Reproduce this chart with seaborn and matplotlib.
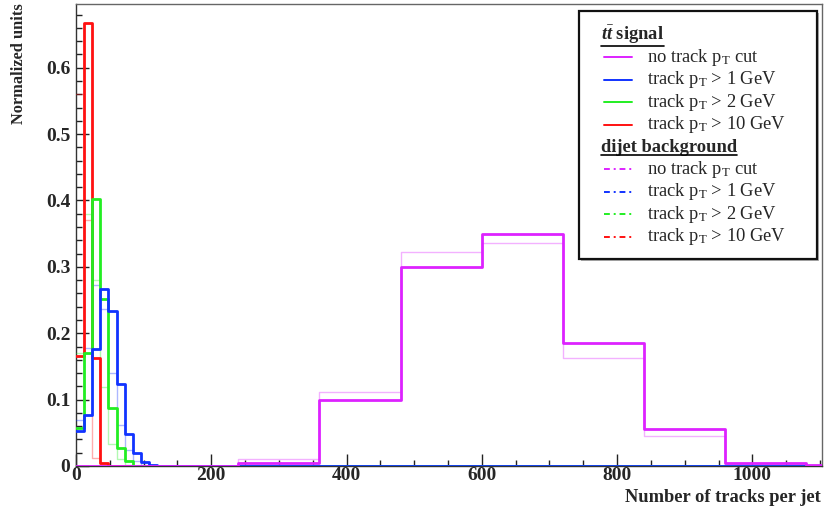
import numpy as np
import pandas as pd
import matplotlib
matplotlib.use("Agg")
import matplotlib.pyplot as plt
import seaborn as sns
from matplotlib.lines import Line2D
from matplotlib.patches import Rectangle

# ---------------- data ----------------
fine_bin_width = 12          # tracks per bin for the pT-cut histograms
coarse_bin_width = 120       # tracks per bin for the no-cut histograms
x_max_range = 1200

# ttbar signal (solid, thick)
sig_nocut = [0.0, 0.0, 0.005, 0.100, 0.300, 0.350, 0.185, 0.055, 0.004, 0.001]
sig_pt1 = [0.053, 0.077, 0.176, 0.267, 0.233, 0.124, 0.048, 0.019, 0.006, 0.001]
sig_pt2 = [0.058, 0.170, 0.402, 0.251, 0.088, 0.027, 0.007]
sig_pt10 = [0.166, 0.667, 0.162, 0.005]

# dijet background (faint)
bkg_nocut = [0.0, 0.0, 0.011, 0.112, 0.323, 0.336, 0.163, 0.045, 0.003, 0.001]
bkg_pt1 = [0.07, 0.178, 0.273, 0.237, 0.140, 0.062, 0.024, 0.008, 0.002]
bkg_pt2 = [0.17, 0.38, 0.28, 0.119, 0.033, 0.010, 0.002]
bkg_pt10 = [0.56, 0.37, 0.012, 0.003]

series_labels = ["no track p$_\\mathrm{T}$ cut",
                 "track p$_\\mathrm{T}$ > 1 GeV",
                 "track p$_\\mathrm{T}$ > 2 GeV",
                 "track p$_\\mathrm{T}$ > 10 GeV"]
header_signal = "$\\mathit{t\\bar{t}}$ signal"
header_background = "dijet background"

x_ticks = [0, 200, 400, 600, 800, 1000]
x_tick_labels = ["0", "200", "400", "600", "800", "1000"]
y_ticks = [0, 0.1, 0.2, 0.3, 0.4, 0.5, 0.6]
y_tick_labels = ["0", "0.1", "0.2", "0.3", "0.4", "0.5", "0.6"]
x_label = "Number of tracks per jet"
y_label = "Normalized units"

# ---------------- style ----------------
sns.set_style("white")
plt.rcParams["font.family"] = ["Liberation Serif", "DejaVu Serif"]
plt.rcParams["mathtext.fontset"] = "custom"
plt.rcParams["mathtext.rm"] = "Liberation Serif"
plt.rcParams["mathtext.it"] = "Liberation Serif:italic:bold"
plt.rcParams["mathtext.bf"] = "Liberation Serif:bold"

colors = ["#dd22ff", "#1133ff", "#22ee22", "#ff1111"]

W, H = 825, 512
fig = plt.figure(figsize=(W / 100, H / 100), dpi=100)
fig.patch.set_facecolor("white")
ax_l, ax_r, ax_b, ax_t = 76, 822, 466, 4
ax = fig.add_axes([ax_l / W, 1 - ax_b / H, (ax_r - ax_l) / W, (ax_b - ax_t) / H])
ax.set_facecolor("white")


def draw_hist(values, width, color, lw, alpha):
    edges = np.arange(0, x_max_range + width, width)
    vals = np.zeros(len(edges) - 1)
    vals[:len(values)] = values
    centers = (edges[:-1] + edges[1:]) / 2
    df = pd.DataFrame({"x": centers, "w": vals})
    sns.histplot(data=df, x="x", weights="w", bins=[float(e) for e in edges],
                 element="step", fill=False, color=color, linewidth=lw,
                 alpha=alpha, ax=ax, zorder=3)


bkg_series = [(bkg_nocut, coarse_bin_width), (bkg_pt1, fine_bin_width),
              (bkg_pt2, fine_bin_width), (bkg_pt10, fine_bin_width)]
sig_series = [(sig_nocut, coarse_bin_width), (sig_pt1, fine_bin_width),
              (sig_pt2, fine_bin_width), (sig_pt10, fine_bin_width)]

for (vals, w), c in zip(bkg_series, colors):
    draw_hist(vals, w, c, 1.0, 0.35)
for (vals, w), c in reversed(list(zip(sig_series, colors))):
    draw_hist(vals, w, c, 2.0, 1.0)

ax.set_xlim(0, 1103)
ax.set_ylim(0, 0.696)
ax.set_xlabel("")
ax.set_ylabel("")
ax.set_xticks(x_ticks)
ax.set_xticklabels(x_tick_labels)
ax.set_yticks(y_ticks)
ax.set_yticklabels(y_tick_labels)
ax.set_xticks(np.arange(0, 1101, 50), minor=True)
ax.set_yticks(np.arange(0, 0.69, 0.02), minor=True)
for lab in ax.get_xticklabels() + ax.get_yticklabels():
    lab.set_fontweight("bold")
    lab.set_fontsize(14)
ax.tick_params(axis="x", which="major", pad=1)
ax.tick_params(axis="y", which="major", pad=4)
ax.tick_params(axis="both", which="major", direction="in", length=9, width=1,
               color="#222222", top=False, right=False, bottom=True, left=True)
ax.tick_params(axis="both", which="minor", direction="in", length=4.5, width=1,
               color="#222222", top=False, right=False, bottom=True, left=True)
for s in ax.spines.values():
    s.set_color("#666666")
    s.set_linewidth(1.0)
    s.set_zorder(1)
ax.spines["left"].set_color("#333333")
ax.spines["bottom"].set_color("#333333")

fig.text(19 / W, 1 - 3 / H, y_label, rotation=90, ha="center", va="top",
         fontsize=11.8, fontweight="bold")
fig.text(821 / W, 1 - 497 / H, x_label, ha="right", va="center",
         fontsize=13.3, fontweight="bold")

# ---------------- legend ----------------
lx0, lx1, ly0, ly1 = 579, 817, 11, 259
fig.patches.append(Rectangle((lx0 / W + 2 / W, 1 - (ly1 + 2) / H), (lx1 - lx0) / W, (ly1 - ly0) / H,
                             transform=fig.transFigure, facecolor="#b0b0b0", edgecolor="none",
                             zorder=9))
fig.patches.append(Rectangle((lx0 / W, 1 - ly1 / H), (lx1 - lx0) / W, (ly1 - ly0) / H,
                             transform=fig.transFigure, facecolor="white", edgecolor="#111111",
                             linewidth=1.6, zorder=10))

row_y = [35 + 22.4 * i for i in range(10)]
headers = []
t = fig.text(601 / W, 1 - row_y[0] / H, header_signal, ha="left", va="center",
             fontsize=13.3, fontweight="bold", zorder=11)
headers.append(t)
t = fig.text(601 / W, 1 - row_y[5] / H, header_background, ha="left", va="center",
             fontsize=13.3, fontweight="bold", zorder=11)
headers.append(t)
for i, (lab, c) in enumerate(zip(series_labels, colors)):
    y = 1 - row_y[1 + i] / H
    fig.lines.append(Line2D([604 / W, 632 / W], [y, y], transform=fig.transFigure,
                            color=c, linewidth=1.4, zorder=11))
    fig.text(647 / W, y, lab, ha="left", va="center", fontsize=13.3, zorder=11)
    y2 = 1 - row_y[6 + i] / H
    fig.lines.append(Line2D([604 / W, 632 / W], [y2, y2], transform=fig.transFigure,
                            color=c, linewidth=1.4, linestyle=(0, (3, 2, 1, 2)), zorder=11))
    fig.text(647 / W, y2, lab, ha="left", va="center", fontsize=13.3, zorder=11)

fig.canvas.draw()
renderer = fig.canvas.get_renderer()
for t in headers:
    bb = t.get_window_extent(renderer)
    yy = (bb.y0 + 0.5) / H
    fig.lines.append(Line2D([bb.x0 / W, bb.x1 / W], [yy, yy], transform=fig.transFigure,
                            color="black", linewidth=1.2, zorder=12))

fig.savefig("out.png", dpi=100, facecolor="white")
